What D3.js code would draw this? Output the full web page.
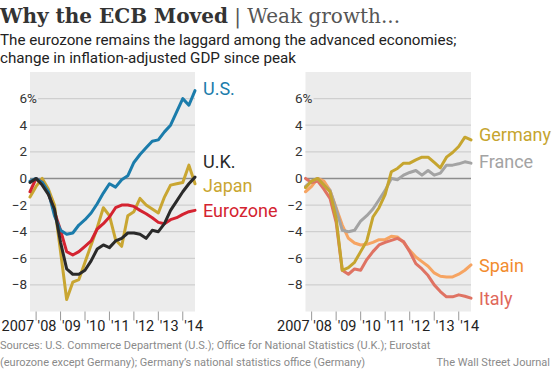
<!DOCTYPE html>
<html>
<head>
<meta charset="utf-8">
<script src="https://cdn.jsdelivr.net/npm/d3@7"></script>
<style>
  body { margin: 0; background: #fff; }
  text { font-family: Roboto, "Open Sans", sans-serif; }
</style>
</head>
<body>
<div id="chart"></div>
<script>
var width = 553,
  height = 371;

// quarterly, 2007 Q4 .. 2014 Q3
var quarters = d3.range(28).map(function(i) { return 2007.75 + i * 0.25; });

var us = [-0.2, 0.0, -0.3, -1.0, -2.8, -3.9, -4.2, -4.1, -3.5, -3.1, -2.6, -1.9, -1.1, -0.4,
  -0.65, -0.1, 0.2, 1.2, 1.8, 2.3, 2.8, 2.9, 3.5, 4.0, 5.0, 6.0, 5.5, 6.6];
var uk = [-0.3, 0.0, -0.5, -1.2, -2.3, -4.8, -6.8, -7.2, -7.2, -6.9, -6.2, -5.3, -5.0, -5.2,
  -4.7, -4.5, -4.1, -4.1, -4.2, -4.5, -3.9, -4.0, -3.4, -2.4, -1.7, -1.0, -0.4, 0.1];
var japan = [-1.4, -0.6, 0.0, -0.8, -2.0, -5.5, -9.1, -7.8, -7.6, -6.3, -5.0, -3.7, -2.2, -2.8,
  -4.6, -5.1, -2.8, -2.5, -1.5, -2.0, -2.3, -2.6, -1.4, -0.5, -0.4, -0.3, 1.0, -0.4];
var eurozone = [-1.0, 0.0, -0.3, -1.1, -2.5, -3.9, -5.5, -5.75, -5.5, -5.1, -4.7, -3.8, -3.4, -2.9,
  -2.2, -2.0, -2.0, -2.1, -2.4, -2.65, -2.95, -3.3, -3.4, -3.1, -2.95, -2.7, -2.5, -2.4];

var germany = [-0.7, -0.2, 0.0, -0.5, -1.0, -3.0, -6.9, -6.7, -6.3, -5.5, -4.7, -2.9, -2.2, -1.2,
  0.5, 0.75, 1.15, 1.15, 1.4, 1.6, 1.6, 1.2, 0.8, 1.6, 1.95, 2.4, 3.1, 2.9];
var france = [-0.6, -0.2, 0.0, -0.5, -0.9, -2.3, -3.9, -4.0, -3.9, -3.2, -2.8, -2.3, -1.6, -0.9,
  0.0, -0.1, 0.25, 0.45, 0.6, 0.25, 0.6, 0.25, 0.4, 1.0, 1.0, 1.1, 1.25, 1.15];
var spain = [-1.0, -0.6, 0.0, -0.2, -0.9, -2.2, -3.5, -4.5, -4.85, -5.0, -4.95, -4.8, -4.6, -4.6,
  -4.35, -4.4, -4.8, -5.4, -5.9, -6.25, -6.6, -7.1, -7.35, -7.4, -7.4, -7.2, -6.9, -6.5];
var italy = [0.0, -0.3, -0.2, -0.8, -1.5, -3.3, -6.9, -7.2, -6.8, -6.9, -6.1, -5.5, -5.0, -4.8,
  -4.65, -4.5, -4.75, -5.5, -6.4, -6.8, -7.3, -8.0, -8.5, -8.9, -8.9, -8.75, -8.85, -9.0];

var yTicks = [6, 4, 2, 0, -2, -4, -6, -8];
var yearTicks = [2008, 2009, 2010, 2011, 2012, 2013, 2014];
var yearLabels = ["'08", "'09", "'10", "'11", "'12", "'13", "'14"];

var leftSeries = [
  { name: 'Japan', values: japan, color: '#c9a632', label: 'Japan', ly: 192 },
  { name: 'Eurozone', values: eurozone, color: '#d42330', label: 'Eurozone', ly: 217 },
  { name: 'U.S.', values: us, color: '#1b7cab', label: 'U.S.', ly: 95 },
  { name: 'U.K.', values: uk, color: '#2a2a2a', label: 'U.K.', ly: 168 }
];
var rightSeries = [
  { name: 'Spain', values: spain, color: '#f6a462', lcolor: '#f28c2e', label: 'Spain', ly: 272 },
  { name: 'Italy', values: italy, color: '#df7363', lcolor: '#e0685a', label: 'Italy', ly: 305 },
  { name: 'France', values: france, color: '#a3a3a3', label: 'France', ly: 168 },
  { name: 'Germany', values: germany, color: '#c6a52f', label: 'Germany', ly: 141 }
];

var svg = d3.select('#chart').append('svg')
  .attr('width', width)
  .attr('height', height);

// header
var title = svg.append('text')
  .attr('x', 0)
  .attr('y', 23)
  .style('font-family', '"DejaVu Serif", serif')
  .style('font-size', '20px')
  .attr('fill', '#333');
title.append('tspan').style('font-weight', 'bold').text('Why the ECB Moved');
title.append('tspan').style('font-weight', 'normal').attr('fill', '#555').text(' | Weak growth...');

svg.append('text').attr('x', 0).attr('y', 45)
  .style('font-size', '15.2px').attr('fill', '#222')
  .text('The eurozone remains the laggard among the advanced economies;');
svg.append('text').attr('x', 0).attr('y', 63)
  .style('font-size', '15.2px').attr('fill', '#222')
  .text('change in inflation-adjusted GDP since peak');

var y = d3.scaleLinear()
  .domain([-10, 8])
  .range([311.5, 72]);

function panel(x0, x1, series) {
  var x = d3.scaleLinear()
    .domain([2007.75, 2014.5])
    .range([x0, x1]);

  var g = svg.append('g');

  g.append('rect')
    .attr('x', x0)
    .attr('y', y(8))
    .attr('width', x1 - x0)
    .attr('height', y(-10) - y(8))
    .attr('fill', '#ececec');

  g.selectAll('.grid')
    .data(yTicks)
    .enter().append('line')
    .attr('x1', function(d) { return d == 6 ? x0 + 8 : x0; })
    .attr('x2', x1)
    .attr('y1', function(d) { return y(d); })
    .attr('y2', function(d) { return y(d); })
    .attr('stroke', function(d) { return d == 0 ? '#8c8c8c' : '#cfcfcf'; })
    .attr('stroke-width', function(d) { return d == 0 ? 1.5 : 1.2; });

  g.selectAll('.ylab')
    .data(yTicks)
    .enter().append('text')
    .attr('x', x0 - 3)
    .attr('y', function(d) { return y(d) + 4.5; })
    .attr('text-anchor', 'end')
    .style('font-size', '13.5px')
    .attr('fill', '#333')
    .text(function(d) { return d < 0 ? '\u2212' + (-d) : d; });

  g.append('text')
    .attr('x', x0 - 3)
    .attr('y', y(6) + 4.5)
    .style('font-size', '13.5px')
    .attr('fill', '#333')
    .text('%');

  // x axis
  g.selectAll('.xtick')
    .data(yearTicks)
    .enter().append('line')
    .attr('x1', function(d) { return x(d); })
    .attr('x2', function(d) { return x(d); })
    .attr('y1', y(-10))
    .attr('y2', y(-10) + 9)
    .attr('stroke', '#999')
    .attr('stroke-width', 1);

  g.append('text')
    .attr('x', x(2008) - 2)
    .attr('y', 331)
    .attr('text-anchor', 'end')
    .style('font-size', '14.5px')
    .attr('fill', '#222')
    .text('2007');

  g.selectAll('.xlab')
    .data(yearTicks)
    .enter().append('text')
    .attr('x', function(d) { return x(d) + 1.5; })
    .attr('y', 331)
    .style('font-size', '14.5px')
    .attr('fill', '#222')
    .text(function(d, i) { return yearLabels[i]; });

  var line = d3.line()
    .x(function(d, i) { return x(quarters[i]); })
    .y(function(d) { return y(d); });

  g.selectAll('.series')
    .data(series)
    .enter().append('path')
    .attr('d', function(d) { return line(d.values); })
    .attr('fill', 'none')
    .attr('stroke', function(d) { return d.color; })
    .attr('stroke-width', 3)
    .attr('stroke-linejoin', 'round')
    .attr('stroke-linecap', 'round');

  g.selectAll('.lab')
    .data(series)
    .enter().append('text')
    .attr('x', x1 + 8)
    .attr('y', function(d) { return d.ly; })
    .style('font-size', '18px')
    .attr('fill', function(d) { return d.lcolor || d.color; })
    .text(function(d) { return d.label; });
}

panel(30, 195, leftSeries);
panel(305.5, 471, rightSeries);

// footer
svg.append('text').attr('x', 0).attr('y', 349)
  .style('font-size', '11px').attr('fill', '#8a8a8a')
  .text('Sources: U.S. Commerce Department (U.S.); Office for National Statistics (U.K.); Eurostat');
svg.append('text').attr('x', 0).attr('y', 366)
  .style('font-size', '11px').attr('fill', '#8a8a8a')
  .text('(eurozone except Germany); Germany\u2019s national statistics office (Germany)');
svg.append('text').attr('x', 550).attr('y', 366)
  .attr('text-anchor', 'end')
  .style('font-size', '11px').attr('fill', '#8a8a8a')
  .text('The Wall Street Journal');
</script>
</body>
</html>
